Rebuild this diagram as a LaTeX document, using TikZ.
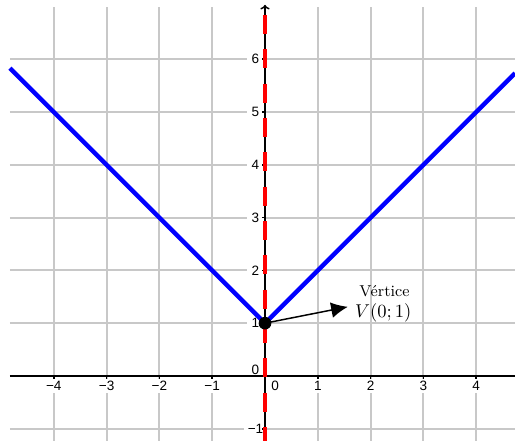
\documentclass[tikz,border=0pt]{standalone}
\usepackage{fontspec}
\newfontfamily\tickfont{Liberation Sans}
\usetikzlibrary{arrows.meta,positioning}
\definecolor{gridgray}{HTML}{C8C8C8}
\definecolor{graphblue}{HTML}{0000FF}
\definecolor{axisred}{HTML}{FF0000}
\tikzset{
  gridline/.style={draw=gridgray,line width=1.1pt},
  axisline/.style={draw=black,line width=0.8pt},
  ticklabel/.style={font=\tickfont\fontsize{7.3}{8}\selectfont,fill=white,
    inner ysep=1.2pt,inner xsep=2.3pt},
  graphline/.style={draw=graphblue,line width=2.4pt},
  asymptote/.style={draw=axisred,line width=2.2pt,dash pattern=on 10.2pt off 8.3pt},
  vertexdot/.style={circle,fill=black,minimum size=2.4mm,inner sep=0pt},
  pointer/.style={-{Latex[length=9pt,width=8.5pt]},line width=0.8pt},
  notelabel/.style={font=\fontsize{8.5}{10}\selectfont,inner sep=0pt}
}

\begin{document}
\begin{tikzpicture}
  \useasboundingbox (-5.019,-1.231) rectangle (4.735,7.121);

  % background grid
  \draw[gridline] (-4.83,-1.231) grid (4.735,6.99);

  % tick labels
  \foreach \x/\t [count=\i] in {-4/−4,-3/−3,-2/−2,-1/−1,1/1,2/2,3/3,4/4}
    \node[ticklabel] (xl\i) at (\x,-0.19) {\t};
  \foreach \y/\t [count=\i] in {-1/−1,1/1,2/2,3/3,4/4,5/5,6/6}
    \node[ticklabel] (yl\i) at (-0.18,\y) {\t};
  \node[ticklabel] (xzero) at (0.19,-0.19) {0};
  \node[ticklabel] (yzero) at (-0.18,0.11) {0};

  % axes
  \draw[axisline] (-4.83,0) -- (4.735,0);
  \draw[axisline,-{To[length=2.5pt,width=5pt]}] (0,-1.231) -- (0,7.03);
  \foreach \x in {-4,...,4}
    \draw[axisline] (\x,0) -- (\x,-0.05);
  \foreach \y in {-1,...,6}
    \draw[axisline] (0,\y) -- (-0.05,\y);

  % axis of symmetry
  \draw[asymptote] (0,6.837) -- (0,-1.231);

  % y = |x| + 1
  \draw[graphline] (-4.83,5.83) -- (0,1) -- (4.735,5.735);

  % vertex
  \node[vertexdot] (vtx) at (0,1) {};
  \coordinate (tip) at (1.57,1.31);
  \draw[pointer] (vtx.center) -- (tip);
  \node[notelabel] (title) at (2.263,1.61) {Vértice};
  \node[notelabel,font=\normalsize] (coords) at (2.24,1.193) {$V(0;1)$};
\end{tikzpicture}
\end{document}
